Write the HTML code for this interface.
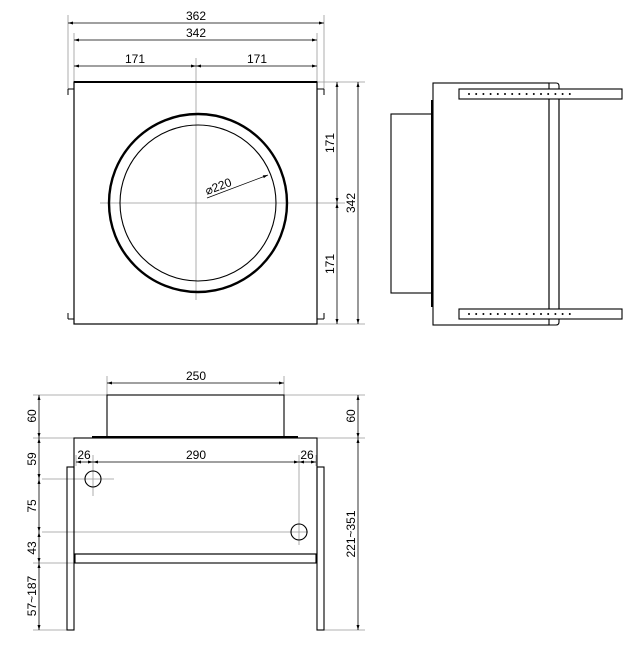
<!DOCTYPE html>
<html><head><meta charset="utf-8"><style>
html,body{margin:0;padding:0;background:#fff;}
svg{display:block}
text{font-family:"Liberation Sans Narrow","Liberation Sans",sans-serif;font-size:12px;fill:#000}
</style></head><body>
<svg width="640" height="652" viewBox="0 0 640 652" xmlns="http://www.w3.org/2000/svg">
<defs>
<marker id="a" viewBox="0 0 10 10" refX="10" refY="5" markerWidth="7" markerHeight="5" orient="auto-start-reverse" markerUnits="userSpaceOnUse"><path d="M0,2 L10,5 L0,8 z" fill="#000"/></marker>
</defs>
<g stroke="#999" stroke-width="0.8" fill="none">
 <!-- top view dims -->
 <line x1="68" y1="15" x2="68" y2="95"/><line x1="324" y1="15" x2="324" y2="95"/>
 <line x1="74" y1="33" x2="74" y2="82"/><line x1="317" y1="33" x2="317" y2="82"/>
 <line x1="196" y1="58" x2="196" y2="300"/>
 <line x1="100" y1="203" x2="345" y2="203"/>
 <line x1="317" y1="82" x2="365" y2="82"/><line x1="317" y1="324" x2="365" y2="324"/>
 <!-- front dims -->
 <line x1="107" y1="376" x2="107" y2="395"/><line x1="284" y1="376" x2="284" y2="395"/>
 <line x1="33" y1="395" x2="107" y2="395"/><line x1="284" y1="395" x2="365" y2="395"/>
 <line x1="33" y1="438" x2="74" y2="438"/><line x1="317" y1="438" x2="365" y2="438"/>
 <line x1="93" y1="455" x2="93" y2="496"/><line x1="42" y1="479" x2="114" y2="479"/>
 <line x1="299" y1="455" x2="299" y2="545"/><line x1="42" y1="532" x2="308" y2="532"/>
 <line x1="33" y1="563" x2="75" y2="563"/>
 <line x1="33" y1="630" x2="67" y2="630"/><line x1="324" y1="630" x2="365" y2="630"/>
 <line x1="76" y1="455" x2="76" y2="466"/><line x1="316" y1="455" x2="316" y2="466"/>
</g>
<g stroke="#000" stroke-width="0.8" fill="none" marker-start="url(#a)" marker-end="url(#a)">
 <line x1="68" y1="23" x2="324" y2="23"/>
 <line x1="74" y1="40" x2="317" y2="40"/>
 <line x1="74" y1="66" x2="196" y2="66"/><line x1="196" y1="66" x2="317" y2="66"/>
 <line x1="337" y1="82" x2="337" y2="203"/><line x1="337" y1="203" x2="337" y2="324"/>
 <line x1="358" y1="82" x2="358" y2="324"/>
 <line x1="107" y1="383" x2="284" y2="383"/>
 <line x1="39" y1="395" x2="39" y2="438"/><line x1="39" y1="438" x2="39" y2="479"/>
 <line x1="39" y1="479" x2="39" y2="532"/><line x1="39" y1="532" x2="39" y2="563"/>
 <line x1="39" y1="563" x2="39" y2="630"/>
 <line x1="358" y1="395" x2="358" y2="438"/><line x1="358" y1="438" x2="358" y2="630"/>
 <line x1="76" y1="462" x2="93" y2="462"/><line x1="93" y1="462" x2="299" y2="462"/><line x1="299" y1="462" x2="316" y2="462"/>
</g>
<line x1="207" y1="198" x2="268" y2="175" stroke="#000" stroke-width="0.7" marker-end="url(#a)"/>
<!-- top view -->
<g stroke="#000" fill="none">
 <rect x="74" y="82" width="243" height="242" stroke-width="1.2"/>
 <line x1="74" y1="82" x2="317" y2="82" stroke-width="2"/>
 <path d="M68,89 H74 M68,89 V95 M317,89 H324 M324,89 V95 M68,319 H74 M68,313 V319 M317,319 H324 M324,313 V319" stroke-width="1"/>
 <circle cx="198" cy="203" r="89" stroke-width="2.4"/>
 <circle cx="198" cy="203" r="78" stroke-width="1.1"/>
</g>
<!-- side view -->
<g stroke="#000" fill="none" stroke-width="1.1">
 <rect x="433" y="83" width="116" height="242"/>
 <line x1="432" y1="100" x2="432" y2="307" stroke-width="2"/>
 <rect x="391" y="114" width="41" height="179"/>
 <path d="M549,83 H556 Q559,83 559,86 V322 Q559,325 556,325 H549"/>
 <rect x="459" y="89" width="163" height="10" fill="#fff"/>
 <rect x="459" y="309" width="163" height="10" fill="#fff"/>
 <line x1="549" y1="99" x2="549" y2="309"/><line x1="559" y1="99" x2="559" y2="309"/>
</g>
<g fill="#000" id="dots">
 <circle cx="469" cy="94" r="1"/><circle cx="476.2" cy="94" r="1"/><circle cx="483.4" cy="94" r="1"/><circle cx="490.6" cy="94" r="1"/><circle cx="497.8" cy="94" r="1"/><circle cx="505" cy="94" r="1"/><circle cx="512.2" cy="94" r="1"/><circle cx="519.4" cy="94" r="1"/><circle cx="526.6" cy="94" r="1"/><circle cx="533.8" cy="94" r="1"/><circle cx="541" cy="94" r="1"/><circle cx="548.2" cy="94" r="1"/><circle cx="555.4" cy="94" r="1"/><circle cx="562.6" cy="94" r="1"/><circle cx="569.8" cy="94" r="1"/>
 <circle cx="469" cy="314" r="1"/><circle cx="476.2" cy="314" r="1"/><circle cx="483.4" cy="314" r="1"/><circle cx="490.6" cy="314" r="1"/><circle cx="497.8" cy="314" r="1"/><circle cx="505" cy="314" r="1"/><circle cx="512.2" cy="314" r="1"/><circle cx="519.4" cy="314" r="1"/><circle cx="526.6" cy="314" r="1"/><circle cx="533.8" cy="314" r="1"/><circle cx="541" cy="314" r="1"/><circle cx="548.2" cy="314" r="1"/><circle cx="555.4" cy="314" r="1"/><circle cx="562.6" cy="314" r="1"/><circle cx="569.8" cy="314" r="1"/>
</g>
<!-- front view -->
<g stroke="#000" fill="none" stroke-width="1.1">
 <rect x="107" y="395" width="177" height="42"/>
 <line x1="92" y1="437" x2="298" y2="437" stroke-width="2"/>
 <rect x="74" y="438" width="243" height="116"/>
 <rect x="75" y="554" width="241" height="9"/>
 <rect x="67" y="467" width="7" height="163"/>
 <rect x="317" y="467" width="7" height="163"/>
 <circle cx="93" cy="479" r="8"/>
 <circle cx="299" cy="532" r="8"/>
</g>
<!-- labels -->
<g text-anchor="middle">
 <text x="196" y="20">362</text>
 <text x="196" y="37">342</text>
 <text x="135" y="63">171</text>
 <text x="257" y="63">171</text>
 <text x="196" y="380">250</text>
 <text x="84" y="459">26</text>
 <text x="196" y="459">290</text>
 <text x="307" y="459">26</text>
 <text transform="translate(334,143) rotate(-90)">171</text>
 <text transform="translate(334,264) rotate(-90)">171</text>
 <text transform="translate(355,203) rotate(-90)">342</text>
 <text transform="translate(355,416) rotate(-90)">60</text>
 <text transform="translate(355,534) rotate(-90)">221~351</text>
 <text transform="translate(36,416) rotate(-90)">60</text>
 <text transform="translate(36,459) rotate(-90)">59</text>
 <text transform="translate(36,506) rotate(-90)">75</text>
 <text transform="translate(36,548) rotate(-90)">43</text>
 <text transform="translate(36,596) rotate(-90)">57~187</text>
</g>
<text transform="translate(207,195) rotate(-20.6)" font-size="11">⌀220</text>
</svg>
</body></html>
